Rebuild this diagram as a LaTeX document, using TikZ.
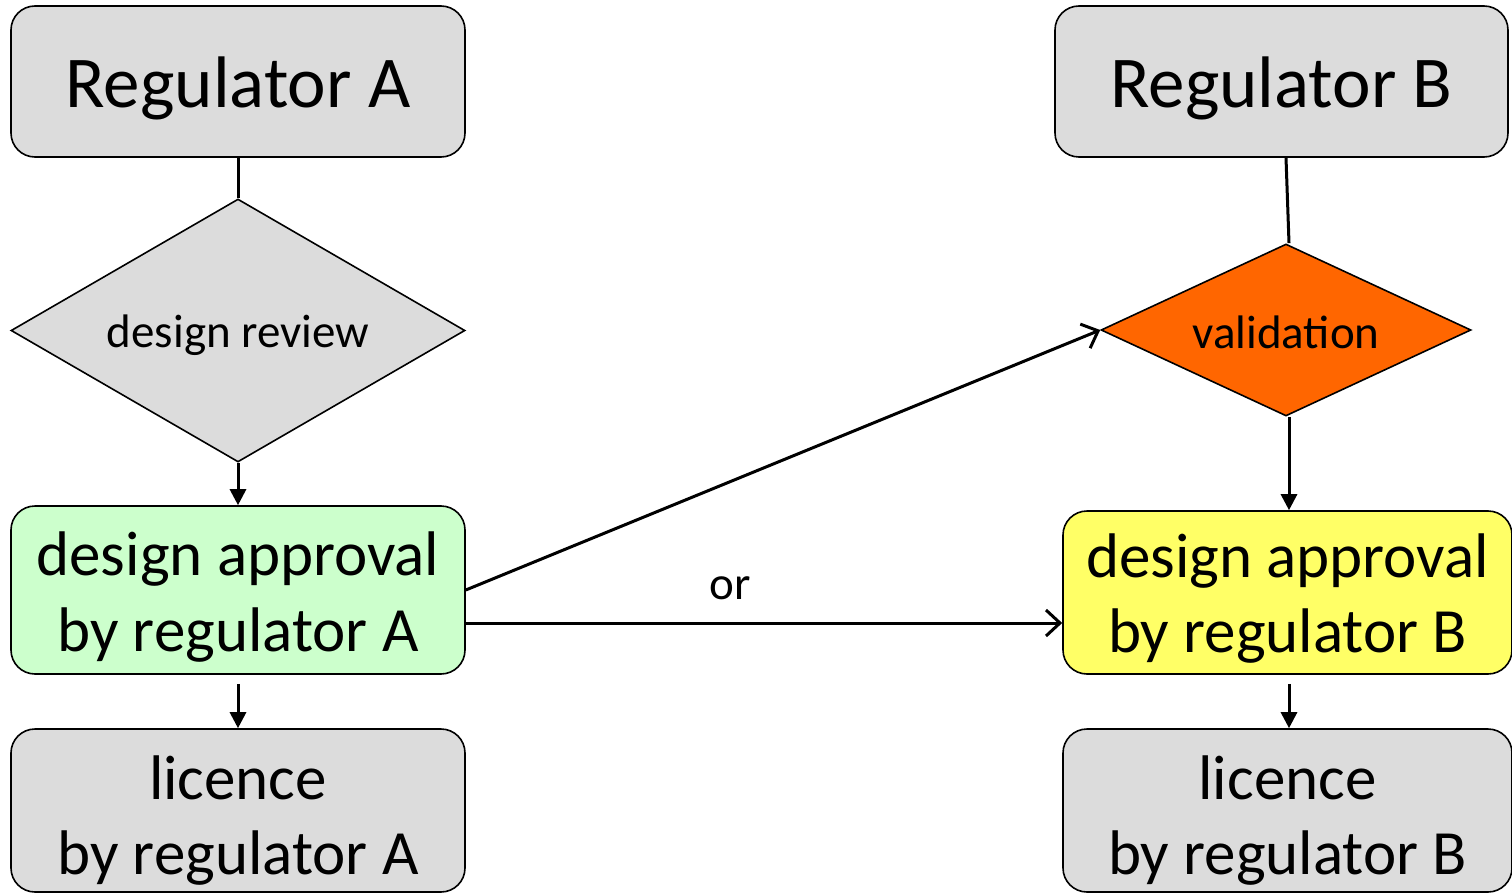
\documentclass[tikz,border=0pt]{standalone}
\usepackage{fontspec}
\setmainfont{Carlito}
\usetikzlibrary{shapes.geometric,arrows.meta,calc}
\definecolor{boxgray}{HTML}{DCDCDC}
\definecolor{boxgreen}{HTML}{CCFFCC}
\definecolor{boxyellow}{HTML}{FFFF66}
\definecolor{boxorange}{HTML}{FF6600}
\tikzset{
  rbox/.style={draw=black, line width=1.6pt, rounded corners=24pt, inner sep=0pt},
  bigtxt/.style={font=\fontsize{73}{88}\selectfont, align=center, inner sep=0pt},
  midtxt/.style={font=\fontsize{63}{75.5}\selectfont, align=center, inner sep=0pt},
  smalltxt/.style={font=\fontsize{47}{56}\selectfont, inner sep=0pt},
  dia/.style={draw=black, line width=1.6pt, diamond, inner sep=0pt},
  conn/.style={line width=3pt},
  solidarrow/.style={line width=3pt, -{Triangle[length=16pt,width=16pt]}},
  openarrow/.style={line width=3pt, -{Straight Barb[length=14pt,width=26pt,line width=3pt]}}
}
\begin{document}
\begin{tikzpicture}[x=1pt,y=-1pt]
\useasboundingbox (0,0) rectangle (1512,896);
% boxes
\node[rbox, fill=boxgray, minimum width=454pt, minimum height=151pt] (regA) at (238,81.5) {};
\node[bigtxt] (regAt) at ([yshift=-7pt]regA.center) {Regulator A};
\node[rbox, fill=boxgray, minimum width=453pt, minimum height=151pt] (regB) at (1281.5,81.5) {};
\node[bigtxt] (regBt) at ([yshift=-7pt]regB.center) {Regulator B};
\node[dia, fill=boxgray, minimum width=454pt, minimum height=263pt] (dr) at (238,330.5) {};
\node[smalltxt] (drt) at ([yshift=-5pt]dr.center) {design review};
\node[dia, fill=boxorange, minimum width=370pt, minimum height=172pt] (val) at (1286,330) {};
\node[smalltxt] (valt) at ([yshift=-2pt]val.center) {validation};
\node[rbox, fill=boxgreen, minimum width=454pt, minimum height=168pt] (daA) at (238,590) {};
\node[midtxt] (daAt) at ([yshift=-7pt]daA.center) {design approval\\by regulator A};
\node[rbox, fill=boxyellow, minimum width=449pt, minimum height=163pt] (daB) at (1287.5,592.5) {};
\node[midtxt] (daBt) at ([yshift=-6pt]daB.center) {design approval\\by regulator B};
\node[rbox, fill=boxgray, minimum width=454pt, minimum height=163pt] (licA) at (238,810.5) {};
\node[midtxt] (licAt) at ([yshift=-10pt]licA.center) {licence\\by regulator A};
\node[rbox, fill=boxgray, minimum width=449pt, minimum height=163pt] (licB) at (1287.5,810.5) {};
\node[midtxt] (licBt) at ([yshift=-10pt]licB.center) {licence\\by regulator B};
% connectors
\draw[conn] (regA.south) -- (dr.north);
\draw[solidarrow] (dr.south) -- (daA.north);
\draw[conn] ([xshift=4.5pt]regB.south) -- ([xshift=3pt]val.north);
\draw[solidarrow] ([xshift=3pt]val.south) -- ([xshift=1.5pt]daB.north);
\draw[openarrow] (daA.east) -- (val.west);
\coordinate (orstart) at ([yshift=-33pt]daA.east);
\draw[openarrow] (orstart) -- (orstart -| daB.west);
\node[smalltxt] (or) at (730,588) {or};
\draw[solidarrow, shorten <=9pt] (daA.south) -- (licA.north);
\draw[solidarrow, shorten <=9pt] ([xshift=1.5pt]daB.south) -- ([xshift=1.5pt]licB.north);
\end{tikzpicture}
\end{document}
